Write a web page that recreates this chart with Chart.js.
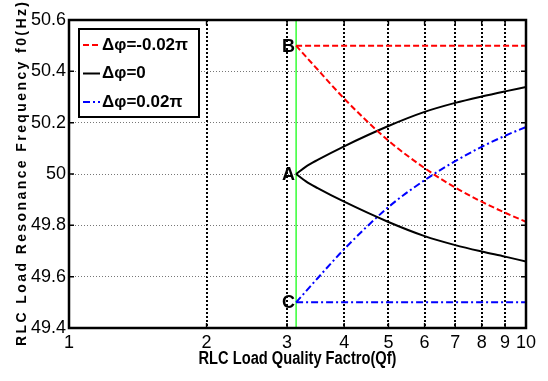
<!DOCTYPE html>
<html>
<head>
<meta charset="utf-8">
<script src="https://cdn.jsdelivr.net/npm/chart.js@4.4.1/dist/chart.umd.min.js"></script>
<style>
  html, body { margin: 0; padding: 0; background: #fff; }
  #wrap { width: 548px; height: 381px; }
</style>
</head>
<body>
<div id="wrap"><canvas id="qfChart" width="548" height="381"></canvas></div>
<script>
// values
const qf = [3.14, 3.3, 3.5, 4, 5, 6, 7, 8, 9, 10];
const f0Upper = [50, 50.029, 50.055, 50.108, 50.187, 50.242, 50.277, 50.302, 50.322, 50.339];
const f0Lower = [50, 49.971, 49.945, 49.892, 49.813, 49.758, 49.723, 49.698, 49.678, 49.659];
const fMinus = [50.5, 50.457, 50.407, 50.294, 50.13, 50.023, 49.947, 49.892, 49.849, 49.814];
const fPlus = [49.5, 49.543, 49.594, 49.707, 49.871, 49.976, 50.05, 50.106, 50.149, 50.183];
const flatQf = [3.14, 10];
const fB = [50.5, 50.5];
const fC = [49.5, 49.5];
const greenQf = [3.14, 3.14];
const greenF = [49.4, 50.6];

const xTicks = [1, 2, 3, 4, 5, 6, 7, 8, 9, 10];
const yTicks = [49.4, 49.6, 49.8, 50, 50.2, 50.4, 50.6];
const legendLabels = ["\u0394\u03c6=-0.02\u03c0", "\u0394\u03c6=0", "\u0394\u03c6=0.02\u03c0"];
const pointNames = ["B", "A", "C"];
const pointF = [50.5, 50, 49.5];

const xTitle = "RLC Load Quality Factro(Qf)";
const yTitle = "RLC Load Resonance Frequency f0(Hz)";

const RED = "#ff0000", BLUE = "#0000ff", BLACK = "#000000";
const redDash = [6, 3];
const blueDash = [7, 3, 2, 3];

const toPts = (xs, ys) => xs.map((x, i) => ({ x: x, y: ys[i] }));

function lineSet(xs, ys, color, dash) {
    return {
        data: toPts(xs, ys),
        borderColor: color,
        borderWidth: 2,
        borderDash: dash,
        showLine: true,
        pointRadius: 0,
        cubicInterpolationMode: "monotone",
        fill: false
    };
}

const legendStyles = [
    { color: RED, dash: redDash },
    { color: BLACK, dash: [] },
    { color: BLUE, dash: blueDash }
];

// frame, inner ticks, point names, legend, axis titles
const extras = {
    id: "extras",
    afterDatasetsDraw(chart) {
        const ctx = chart.ctx;
        const a = chart.chartArea;
        const xs = chart.scales.x, ys = chart.scales.y;
        ctx.save();

        // inward ticks
        ctx.strokeStyle = BLACK;
        ctx.lineWidth = 1.5;
        ctx.setLineDash([]);
        ctx.beginPath();
        xTicks.forEach(v => {
            const px = xs.getPixelForValue(v);
            ctx.moveTo(px, a.bottom); ctx.lineTo(px, a.bottom - 5);
            ctx.moveTo(px, a.top); ctx.lineTo(px, a.top + 5);
        });
        yTicks.forEach(v => {
            const py = ys.getPixelForValue(v);
            ctx.moveTo(a.left, py); ctx.lineTo(a.left + 5, py);
            ctx.moveTo(a.right, py); ctx.lineTo(a.right - 5, py);
        });
        ctx.stroke();

        // frame
        ctx.lineWidth = 2.5;
        ctx.strokeRect(a.left, a.top, a.right - a.left, a.bottom - a.top);

        // A B C
        ctx.fillStyle = BLACK;
        ctx.font = "bold 18px 'Liberation Sans', Arial, sans-serif";
        ctx.textAlign = "right";
        ctx.textBaseline = "middle";
        pointNames.forEach((n, i) => {
            ctx.fillText(n, xs.getPixelForValue(flatQf[0]) - 1, ys.getPixelForValue(pointF[i]) + 1);
        });

        // legend box
        const bx = a.left + 10, by = a.top + 9, bw = 120, bh = 88;
        ctx.fillStyle = "#fff";
        ctx.fillRect(bx, by, bw, bh);
        ctx.lineWidth = 2;
        ctx.strokeStyle = BLACK;
        ctx.strokeRect(bx, by, bw, bh);
        ctx.textAlign = "left";
        ctx.font = "bold 17px 'Liberation Sans', Arial, sans-serif";
        legendLabels.forEach((lab, i) => {
            const ry = by + 16 + i * 28.5;
            ctx.strokeStyle = legendStyles[i].color;
            ctx.setLineDash(legendStyles[i].dash);
            ctx.lineWidth = 2;
            ctx.beginPath();
            ctx.moveTo(bx + 4, ry);
            ctx.lineTo(bx + 21, ry);
            ctx.stroke();
            ctx.setLineDash([]);
            ctx.fillStyle = BLACK;
            const w = ctx.measureText(lab).width;
            const sx = Math.min(1, 92 / w);
            ctx.save();
            ctx.translate(bx + 23, ry);
            ctx.scale(sx, 1);
            ctx.fillText(lab, 0, 0);
            ctx.restore();
        });
        ctx.restore();
    },
    afterDraw(chart) {
        const ctx = chart.ctx;
        const a = chart.chartArea;
        ctx.save();
        ctx.fillStyle = BLACK;
        ctx.textBaseline = "middle";

        // x title, narrow bold
        ctx.font = "bold 18px 'Liberation Sans', Arial, sans-serif";
        ctx.textAlign = "center";
        const w = ctx.measureText(xTitle).width;
        ctx.save();
        ctx.translate((a.left + a.right) / 2, 359);
        ctx.scale(198 / w, 1);
        ctx.fillText(xTitle, 0, 0);
        ctx.restore();

        // y title, letters spread out
        ctx.font = "bold 14px 'Liberation Sans', Arial, sans-serif";
        ctx.textAlign = "left";
        const chars = yTitle.split("");
        const widths = chars.map(c => ctx.measureText(c).width);
        const total = widths.reduce((s, v) => s + v, 0);
        const span = 344;
        const gap = (span - total) / (chars.length - 1);
        ctx.save();
        ctx.translate(22, 346);
        ctx.rotate(-Math.PI / 2);
        let pos = 0;
        chars.forEach((c, i) => {
            ctx.fillText(c, pos, 0);
            pos += widths[i] + gap;
        });
        ctx.restore();
        ctx.restore();
    }
};

new Chart(document.getElementById("qfChart"), {
    type: "scatter",
    data: {
        datasets: [
            lineSet(flatQf, fB, RED, redDash),
            lineSet(qf, fMinus, RED, redDash),
            lineSet(qf, f0Upper, BLACK, []),
            lineSet(qf, f0Lower, BLACK, []),
            lineSet(flatQf, fC, BLUE, blueDash),
            lineSet(qf, fPlus, BLUE, blueDash),
            Object.assign(lineSet(greenQf, greenF, "#00ff00", []), { borderWidth: 1.2 })
        ]
    },
    options: {
        responsive: false,
        animation: false,
        layout: { padding: { top: 20, right: 22, left: 0, bottom: 0 } },
        plugins: {
            legend: { display: false },
            tooltip: { enabled: false }
        },
        scales: {
            x: {
                type: "logarithmic",
                min: 1,
                max: 10,
                afterBuildTicks: s => { s.ticks = xTicks.map(v => ({ value: v })); },
                afterFit: s => { s.height = 53; },
                ticks: {
                    autoSkip: false,
                    maxRotation: 0,
                    padding: 4,
                    color: BLACK,
                    font: { family: "'Liberation Sans', Arial, sans-serif", size: 18 },
                    callback: v => String(v)
                },
                grid: {
                    drawTicks: false,
                    lineWidth: 2,
                    color: c => (c.tick && (c.tick.value === 1 || c.tick.value === 10)) ? "rgba(0,0,0,0)" : BLACK,
                    borderDash: [2, 2]
                },
                border: { display: false, dash: [2, 2] }
            },
            y: {
                min: 49.4,
                max: 50.6,
                afterBuildTicks: s => { s.ticks = yTicks.map(v => ({ value: v })); },
                afterFit: s => { s.width = 69; },
                ticks: {
                    padding: 3,
                    color: BLACK,
                    font: { family: "'Liberation Sans', Arial, sans-serif", size: 18 },
                    callback: v => String(+v.toFixed(1))
                },
                grid: {
                    drawTicks: false,
                    lineWidth: 1,
                    color: c => (c.tick && (c.tick.value === 49.4 || c.tick.value === 50.6)) ? "rgba(0,0,0,0)" : "#777",
                    borderDash: [1, 2]
                },
                border: { display: false, dash: [1, 2] }
            }
        }
    },
    plugins: [extras]
});
</script>
</body>
</html>
